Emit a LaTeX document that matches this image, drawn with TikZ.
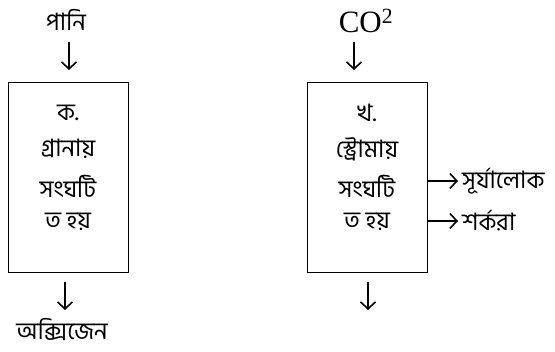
\documentclass[tikz,border=0pt]{standalone}
\usepackage{fontspec}
\setmainfont{Liberation Serif}
\newfontfamily\bnfont[Script=Bengali]{Hind Siliguri}
\usetikzlibrary{arrows.meta}
\tikzset{
  bn/.style={font=\bnfont\fontsize{24}{27}\selectfont, inner sep=0pt},
  lat/.style={font=\fontsize{31}{34}\selectfont, inner sep=0pt},
  box/.style={draw, line width=1pt, minimum width=120pt, minimum height=190pt, inner sep=0pt},
  arr/.style={line width=1.1pt, -{Straight Barb[length=7pt,width=15pt,line width=1.6pt]}}
}
\begin{document}
\begin{tikzpicture}[x=1pt,y=-1pt]
\useasboundingbox (0,0) rectangle (555,352);
% left
\node[bn] (pani) at (66,20) {পানি};
\node[box] (boxA) at (68,178) {};
\node[bn] (a1) at (68,113) {ক.};
\node[bn] (a2) at (68,149) {গ্রানায়};
\node[bn] (a3) at (68,186) {সংঘটি};
\node[bn] (a4) at (68,222) {ত হয়};
\coordinate (pa1) at (69,42);
\coordinate (pa2) at (69,70);
\draw[arr] (pa1) -- (pa2);
\coordinate (ob1) at (65,282);
\coordinate (ob2) at (65,310);
\draw[arr] (ob1) -- (ob2);
\node[bn] (oxy) at (62,330) {অক্সিজেন};
% right
\node[lat] (co) at (366,21) {CO\textsuperscript{2}};
\node[box] (boxB) at (367,178) {};
\node[bn] (b1) at (367,113) {খ.};
\node[bn] (b2) at (367,149) {স্ট্রোমায়};
\node[bn] (b3) at (367,186) {সংঘটি};
\node[bn] (b4) at (367,222) {ত হয়};
\coordinate (ca1) at (354,42);
\coordinate (ca2) at (354,70);
\draw[arr] (ca1) -- (ca2);
\coordinate (rb1) at (368,282);
\coordinate (rb2) at (368,310);
\draw[arr] (rb1) -- (rb2);
\coordinate (s1) at (boxB.east |- 0,181);
\coordinate (s2) at (458,181);
\draw[arr] (s1) -- (s2);
\node[bn, anchor=west] (sun) at (462,181) {সূর্যালোক};
\coordinate (g1) at (boxB.east |- 0,221);
\coordinate (g2) at (458,221);
\draw[arr] (g1) -- (g2);
\node[bn, anchor=west] (sug) at (462,221) {শর্করা};
\end{tikzpicture}
\end{document}
